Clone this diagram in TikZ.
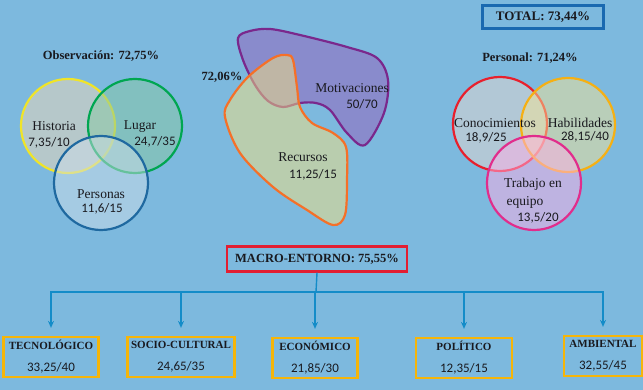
\documentclass[tikz,border=0pt]{standalone}
\usepackage{fontspec}
\setmainfont{Liberation Serif}
\newfontfamily\numfont{Carlito}
\usetikzlibrary{arrows.meta, positioning}

\definecolor{bgblue}{RGB}{125,185,222}
\definecolor{txtdark}{RGB}{25,25,30}
\definecolor{cyellow}{RGB}{240,228,40}
\definecolor{cgreen}{RGB}{0,166,81}
\definecolor{csteel}{RGB}{31,105,160}
\definecolor{cred}{RGB}{232,32,45}
\definecolor{corange}{RGB}{245,176,20}
\definecolor{cmagenta}{RGB}{225,45,140}
\definecolor{cpurple}{RGB}{122,40,140}
\definecolor{cblob}{RGB}{245,112,40}
\definecolor{boxgold}{RGB}{245,181,10}
\definecolor{boxred}{RGB}{227,30,50}
\definecolor{boxblue}{RGB}{26,105,176}
\definecolor{linkblue}{RGB}{20,140,200}

\begin{document}
\begin{tikzpicture}[
    x=1pt, y=-1pt,
    every node/.style={font=\fontsize{13.5}{15}\selectfont, text=txtdark, inner sep=1pt},
    venn/.style={circle, line width=2.2pt, minimum size=94pt, fill opacity=0.5},
    heading/.style={font=\fontsize{12.5}{14}\selectfont\bfseries},
    val/.style={font=\fontsize{13}{14}\selectfont\numfont},
    catbox/.style={draw=boxgold, line width=2.2pt, minimum height=40pt, align=center,
        inner sep=2pt, font=\fontsize{11}{22}\selectfont\bfseries},
    link/.style={draw=linkblue, line width=1.4pt, -{Stealth[length=7pt, width=6pt]}, shorten >=8pt}
]
\useasboundingbox[fill=bgblue] (0,0) rectangle (643,390);

% observacion
\node[heading] (obs) at (101,56) {Observación: 72,75\%};
\node[venn, draw=cyellow, fill={rgb,255:red,239;green,216;blue,184}] (hist) at (68,126) {};
\node[venn, draw=cgreen, fill={rgb,255:red,135;green,200;blue,162}] (lugar) at (135,126) {};
\node[venn, draw=csteel, fill={rgb,255:red,205;green,221;blue,232}] (pers) at (101,183) {};
\node (histT) at (54,126) {Historia};
\node[val] (histV) at (49,143) {7,35/10};
\node (lugarT) at (140,127) {Lugar};
\node[val] (lugarV) at (155,142) {24,7/35};
\node (persT) at (101,194) {Personas};
\node[val] (persV) at (102,209) {11,6/15};

% recursos y motivaciones
\draw[cpurple, line width=2.2pt, fill={rgb,255:red,149;green,95;blue,188}, fill opacity=0.5]
    plot[smooth cycle, tension=0.55] coordinates {(238,38) (250,31) (270,29) (300,35) (347,47)
    (377,58) (388,80) (384,113) (365,145) (347,133) (330,110) (316,103) (300,103) (283,107)
    (268,101) (255,85) (243,60)};
\draw[cblob, line width=2.2pt, fill={rgb,255:red,245;green,225;blue,128}, fill opacity=0.5]
    plot[smooth cycle, tension=0.55] coordinates {(287,55) (273,58) (248,77) (230,100) (225,117)
    (240,153) (273,187) (307,210) (333,225) (345,215) (347,180) (346,147) (333,133) (312,123)
    (300,107) (297,87) (293,60)};
\node[heading] (org) at (222,77) {72,06\%};
\node (motT) at (352,88) {Motivaciones};
\node[val] (motV) at (362,104) {50/70};
\node (recT) at (303,157) {Recursos};
\node[val] (recV) at (313,175) {11,25/15};

% personal
\node[heading, draw=boxblue, line width=2.4pt, minimum width=121pt, minimum height=23pt,
    font=\fontsize{13}{14}\selectfont\bfseries] (total) at (543,17) {TOTAL: 73,44\%};
\node[heading] (persnl) at (530,58) {Personal: 71,24\%};
\node[venn, draw=cred, fill={rgb,255:red,232;green,216;blue,208}] (cono) at (500,124) {};
\node[venn, draw=corange, fill={rgb,255:red,245;green,228;blue,150}] (habil) at (568,125) {};
\node[venn, draw=cmagenta, fill={rgb,255:red,255;green,175;blue,228}] (trab) at (534,183) {};
\node (conoT) at (495,123) {Conocimientos};
\node[val] (conoV) at (486,138) {18,9/25};
\node (habilT) at (580,123) {Habilidades};
\node[val] (habilV) at (585,137) {28,15/40};
\node (trabT) at (533,184) {Trabajo en};
\node (trabT2) at (525,202) {equipo};
\node[val] (trabV) at (538,218) {13,5/20};

% macro-entorno
\node[heading, draw=boxred, line width=2.2pt, minimum width=180pt, minimum height=25pt] (macro)
    at (317,259) {MACRO-ENTORNO: 75,55\%};
\coordinate (bus) at (316,292);

\node[catbox, minimum width=95pt] (tec) at (51,357) {TECNOLÓGICO\\{\numfont\mdseries\fontsize{13}{14}\selectfont 33,25/40}};
\node[catbox, minimum width=107pt] (soc) at (181,357) {SOCIO-CULTURAL\\{\numfont\mdseries\fontsize{13}{14}\selectfont 24,65/35}};
\node[catbox, minimum width=85pt] (eco) at (315,358) {ECONÓMICO\\{\numfont\mdseries\fontsize{13}{14}\selectfont 21,85/30}};
\node[catbox, minimum width=96pt] (pol) at (464,358) {POLÍTICO\\{\numfont\mdseries\fontsize{13}{14}\selectfont 12,35/15}};
\node[catbox, minimum width=78pt] (amb) at (603,356) {AMBIENTAL\\{\numfont\mdseries\fontsize{13}{14}\selectfont 32,55/45}};

\draw[linkblue, line width=1.4pt] (macro.south) -- (bus);
\draw[link] (bus) -| (tec.north);
\draw[link] (bus) -| (soc.north);
\draw[link] (bus) -| (eco.north);
\draw[link] (bus) -| (pol.north);
\draw[link] (bus) -| (amb.north);
\end{tikzpicture}
\end{document}
